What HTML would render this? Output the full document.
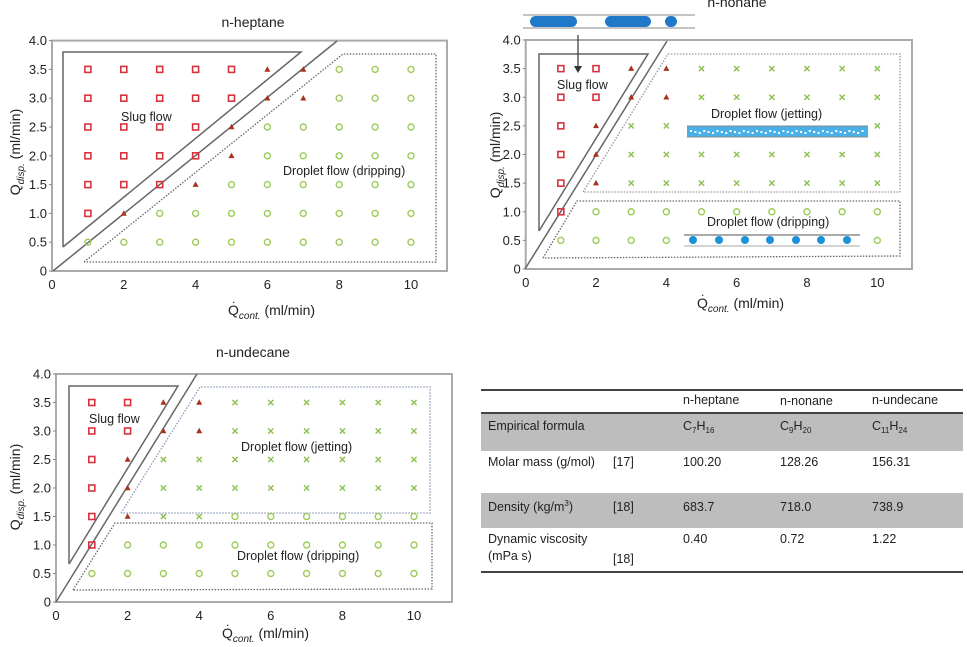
<!DOCTYPE html>
<html><head><meta charset="utf-8"><style>
body{margin:0;background:#fff;width:967px;height:642px;overflow:hidden;font-family:"Liberation Sans",sans-serif}
svg text{font-family:"Liberation Sans",sans-serif;fill:#222}
</style></head><body>
<svg id="s" width="967" height="642" xmlns="http://www.w3.org/2000/svg">
<defs>
<g id="sq"><rect x="-3" y="-3" width="6" height="6" fill="none" stroke="#d8333d" stroke-width="1.6"/></g>
<g id="tr"><path d="M0,-3.2 L3,2.3 L-3,2.3Z" fill="#a8321c"/></g>
<g id="ci"><circle r="3" fill="none" stroke="#9ccc5a" stroke-width="1.4"/></g>
<g id="cr"><path d="M-2.6,-2.6L2.6,2.6M-2.6,2.6L2.6,-2.6" stroke="#8cc04f" stroke-width="1.4"/></g>
</defs>
<g id="g"></g>
<!-- table -->
<rect x="481" y="413" width="482" height="38" fill="#bdbdbd"/>
<rect x="481" y="493" width="482" height="35" fill="#bdbdbd"/>
<line x1="481" y1="390" x2="963" y2="390" stroke="#444" stroke-width="2"/>
<line x1="481" y1="413" x2="963" y2="413" stroke="#444" stroke-width="2"/>
<line x1="481" y1="572" x2="963" y2="572" stroke="#444" stroke-width="2"/>
<g font-size="12.5">
<text x="683" y="404">n-heptane</text><text x="780" y="405">n-nonane</text><text x="872" y="404">n-undecane</text>
<text x="488" y="430">Empirical formula</text>
<text x="683" y="430">C<tspan font-size="8" dy="3">7</tspan><tspan dy="-3">H</tspan><tspan font-size="8" dy="3">16</tspan></text>
<text x="780" y="430">C<tspan font-size="8" dy="3">9</tspan><tspan dy="-3">H</tspan><tspan font-size="8" dy="3">20</tspan></text>
<text x="872" y="430">C<tspan font-size="8" dy="3">11</tspan><tspan dy="-3">H</tspan><tspan font-size="8" dy="3">24</tspan></text>
<text x="488" y="466">Molar mass (g/mol)</text><text x="613" y="466">[17]</text>
<text x="683" y="466">100.20</text><text x="780" y="466">128.26</text><text x="872" y="466">156.31</text>
<text x="488" y="511">Density (kg/m<tspan font-size="8" dy="-5">3</tspan><tspan dy="5">)</tspan></text><text x="613" y="511">[18]</text>
<text x="683" y="511">683.7</text><text x="780" y="511">718.0</text><text x="872" y="511">738.9</text>
<text x="488" y="543">Dynamic viscosity</text><text x="488" y="560">(mPa s)</text><text x="613" y="563">[18]</text>
<text x="683" y="543">0.40</text><text x="780" y="543">0.72</text><text x="872" y="543">1.22</text>
</g>
</svg>
<script>
const g=document.getElementById('g');let h='';
function chart(o){
 const X=v=>o.x0+v*o.sx, Y=v=>o.y0-v*o.sy;
 h+=`<rect x="${o.x0}" y="${Y(4)}" width="${o.right-o.x0}" height="${o.y0-Y(4)}" fill="none" stroke="#aaa" stroke-width="2"/>`;
 for(let i=0;i<=8;i++){let v=i*0.5;h+=`<text x="${o.x0-5}" y="${Y(v)+4.5}" font-size="13" text-anchor="end" fill="#333">${v==0?'0':v.toFixed(1)}</text><line x1="${o.x0-3}" x2="${o.x0}" y1="${Y(v)}" y2="${Y(v)}" stroke="#888"/>`;}
 for(let i=0;i<=10;i+=2){h+=`<text x="${X(i)}" y="${o.y0+18}" font-size="13" text-anchor="middle" fill="#333">${i}</text>`;}
 h+=`<text x="${o.tx}" y="${o.ty}" font-size="14" text-anchor="middle">${o.title}</text>`;
 h+=`<text x="${o.xlx}" y="${o.xly}" font-size="14">Q<tspan font-size="10" font-style="italic" dy="4">cont.</tspan><tspan dy="-4"> (ml/min)</tspan></text><text x="${o.xlx+4}" y="${o.xly-12}" font-size="12">.</text>`;
 h+=`<text transform="translate(${o.ylx},${o.yly}) rotate(-90)" font-size="14" text-anchor="middle">Q<tspan font-size="10" font-style="italic" dy="4">disp.</tspan><tspan dy="-4"> (ml/min)</tspan></text>`;
 for(const [pts,st] of o.lines){h+=`<polyline points="${pts}" fill="none" ${st}/>`;}
 for(const [t,x,y] of o.labels){h+=`<text x="${x}" y="${y}" font-size="12.5">${t}</text>`;}
 for(let yi=1;yi<=7;yi++)for(let xi=1;xi<=10;xi++){const m=o.m(xi,yi*0.5);if(m)h+=`<use href="#${m}" x="${X(xi)}" y="${Y(yi*0.5)}"/>`;}
}
const solid='stroke="#666" stroke-width="1.5"', dot='stroke="#666" stroke-width="1.3" stroke-dasharray="1.5,1.5"', bdot='stroke="#8a9ab8" stroke-width="1.3" stroke-dasharray="1.5,1.5"';
chart({x0:52,y0:271,sx:35.9,sy:57.6,right:447,title:'n-heptane',tx:253,ty:27,xlx:228,xly:315,ylx:20,yly:152,
 lines:[["63,247 63,52 301,52 63,247",solid],["53,271 337,41",solid],["84,262 343,54 436,54 436,262 84,262",dot]],
 labels:[["Slug flow",121,121],["Droplet flow (dripping)",283,175]],
 m:(x,y)=>{const sqm={3.5:5,3:5,2.5:4,2:4,1.5:3,1:1,0.5:0};const trm={3.5:[6,7],3:[6,7],2.5:[5],2:[5],1.5:[4],1:[2],0.5:[]};if(x<=sqm[y])return'sq';if(trm[y].includes(x))return'tr';return'ci';}});
chart({x0:525.7,y0:269,sx:35.16,sy:57.25,right:912,title:'n-nonane',tx:737,ty:7,xlx:697,xly:308,ylx:500,yly:155,
 lines:[["539,231 539,54 648,54 539,231",solid],["525,269 667,41",solid],["543,258 577,201 900,201 900,256 543,258",dot],["583,192 668,54 900,54 900,192 583,192",'stroke="#999" stroke-width="1.3" stroke-dasharray="1.5,1.5"']],
 labels:[["Slug flow",557,89],["Droplet flow (jetting)",711,118],["Droplet flow (dripping)",707,226]],
 m:(x,y)=>{if(x==1&&y>=1)return'sq';if(x==2&&y>=3)return'sq';if(x==2&&y>=1.5)return'tr';if((x==3||x==4)&&y>=3)return'tr';if(y<=1)return'ci';if(y==2.5&&x>=5&&x<=9)return null;return'cr';}});
chart({x0:56,y0:602,sx:35.8,sy:57,right:452,title:'n-undecane',tx:253,ty:357,xlx:222,xly:638,ylx:20,yly:487,
 lines:[["69,564 69,386 178,386 69,564",solid],["56,602 197,374",solid],["73,590 115,523 432,523 432,589 73,590",dot],["121,513 200,387 430,387 430,513 121,513",bdot]],
 labels:[["Slug flow",89,423],["Droplet flow (jetting)",241,451],["Droplet flow (dripping)",237,560]],
 m:(x,y)=>{if(x==1&&y>=1)return'sq';if(x==2&&y>=3)return'sq';if(x==2&&y>=1.5)return'tr';if((x==3||x==4)&&y>=3)return'tr';if(y<=1)return'ci';if(y==1.5&&x>=5)return'ci';if(y>=3&&x<5)return null;return'cr';}});
// nonane images
h+=`<rect x="684" y="234" width="176" height="14" fill="#fff"/><line x1="684" y1="235" x2="860" y2="235" stroke="#555"/><line x1="684" y1="246" x2="860" y2="246" stroke="#aaa"/>`;
for(const cx of [693,719,745,770,796,821,847])h+=`<circle cx="${cx}" cy="240" r="4" fill="#1e90d8"/>`;
h+=`<rect x="687" y="126" width="181" height="11" fill="#4ab0ea"/><line x1="687" y1="126" x2="868" y2="126" stroke="#888"/><line x1="687" y1="137" x2="868" y2="137" stroke="#888"/>`;
for(let i=0;i<40;i++)h+=`<rect x="${690+i*4.4}" y="${130+(i%3)}" width="2" height="2" fill="#fff"/>`;
h+=`<line x1="523" y1="15" x2="695" y2="15" stroke="#888"/><line x1="523" y1="28" x2="695" y2="28" stroke="#888"/>`;
h+=`<rect x="530" y="16" width="47" height="11" rx="5.5" fill="#1f78c8"/><rect x="605" y="16" width="46" height="11" rx="5.5" fill="#1f78c8"/><rect x="665" y="16" width="12" height="11" rx="5.5" fill="#1f78c8"/>`;
h+=`<line x1="578" y1="35" x2="578" y2="68" stroke="#333" stroke-width="1.2"/><path d="M574,66 L582,66 L578,73Z" fill="#333"/>`;
g.innerHTML=h;
</script>
</body></html>
